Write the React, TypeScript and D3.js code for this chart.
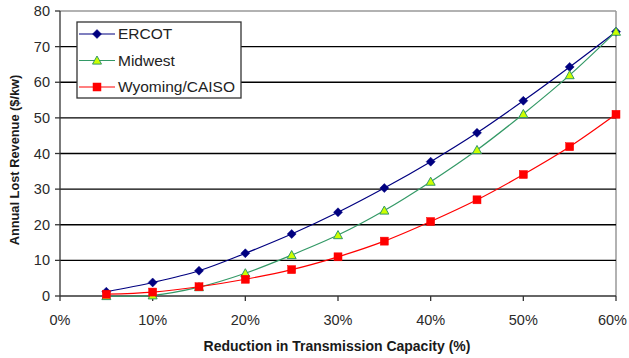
import React from "react";
import * as d3 from "d3";

const capacityCuts = [5, 10, 15, 20, 25, 30, 35, 40, 45, 50, 55, 60];
const ercot = [1.2, 3.8, 7.1, 12.0, 17.4, 23.5, 30.3, 37.7, 45.8, 54.8, 64.3, 74.2];
const midwest = [0.0, 0.2, 2.5, 6.4, 11.5, 17.1, 24.0, 32.1, 41.0, 51.1, 62.0, 74.2];
const wyomingCaiso = [0.5, 1.1, 2.6, 4.7, 7.4, 11.0, 15.4, 20.9, 27.0, 34.1, 41.9, 51.0];
const xTicks = [0, 10, 20, 30, 40, 50, 60];
const yTicks = [0, 10, 20, 30, 40, 50, 60, 70, 80];

const W = 629;
const H = 358;
const left = 60;
const right = 616;
const top = 11;
const bottom = 296;

const x = d3.scaleLinear().domain([0, 60]).range([left, right]);
const y = d3.scaleLinear().domain([0, 80]).range([bottom, top]);

const series = [
  { name: "ERCOT", values: ercot, line: "#000080", marker: "diamond", fill: "#000080", stroke: "#000080" },
  { name: "Midwest", values: midwest, line: "#339966", marker: "triangle", fill: "#ccff00", stroke: "#339966" },
  { name: "Wyoming/CAISO", values: wyomingCaiso, line: "#ff0000", marker: "square", fill: "#ff0000", stroke: "#ff0000" },
];

const font = "'Liberation Sans', Arial, sans-serif";

function Marker({ kind, cx, cy, fill, stroke }: any) {
  if (kind === "diamond") {
    const r = 4.5;
    return <path d={`M${cx},${cy - r}L${cx + r},${cy}L${cx},${cy + r}L${cx - r},${cy}Z`} fill={fill} stroke={stroke} strokeWidth={0.5} />;
  }
  if (kind === "triangle") {
    const r = 4.5;
    return <path d={`M${cx},${cy - r}L${cx + r},${cy + r * 0.8}L${cx - r},${cy + r * 0.8}Z`} fill={fill} stroke={stroke} strokeWidth={1} />;
  }
  const s = 4;
  return <rect x={cx - s} y={cy - s} width={s * 2} height={s * 2} fill={fill} stroke={stroke} strokeWidth={0.5} />;
}

export default function App() {
  const line = d3
    .line<number>()
    .x((_, i) => x(capacityCuts[i]))
    .y((v) => y(v))
    .curve(d3.curveCatmullRom.alpha(0.5));

  return (
    <svg width={W} height={H} style={{ position: "absolute", left: 0, top: 0 }} fontFamily={font}>
      <rect width={W} height={H} fill="#ffffff" />
      {/* plot frame */}
      <line x1={left} x2={right} y1={top} y2={top} stroke="#999999" strokeWidth={1.5} />
      <line x1={right} x2={right} y1={top} y2={bottom} stroke="#999999" strokeWidth={1.5} />
      {yTicks.filter((t) => t > 0 && t < 80).map((t) => (
        <line key={t} x1={left} x2={right} y1={y(t)} y2={y(t)} stroke="#000000" strokeWidth={1.3} />
      ))}
      {/* axes */}
      <line x1={left} x2={left} y1={top} y2={bottom} stroke="#333333" strokeWidth={1.3} />
      <line x1={left} x2={right} y1={bottom} y2={bottom} stroke="#333333" strokeWidth={1.3} />
      {yTicks.map((t) => (
        <g key={t}>
          <line x1={left - 5} x2={left} y1={y(t)} y2={y(t)} stroke="#333333" strokeWidth={1.3} />
          <text x={50} y={y(t)} dy="0.35em" textAnchor="end" fontSize={14.5} fill="#2a2a2a">{t}</text>
        </g>
      ))}
      {xTicks.map((t, i) => {
        const last = i === xTicks.length - 1;
        return (
          <g key={t}>
            <line x1={x(t)} x2={x(t)} y1={bottom} y2={bottom + 5} stroke="#333333" strokeWidth={1.3} />
            <text x={last ? W - 2 : x(t)} y={320} dy="0.35em" textAnchor={last ? "end" : "middle"} fontSize={14.5} fill="#2a2a2a">{t}%</text>
          </g>
        );
      })}
      <text x={337} y={346} dy="0.35em" textAnchor="middle" fontSize={14} fontWeight="bold" fill="#1a1a1a">
        Reduction in Transmission Capacity (%)
      </text>
      <text transform="translate(15,160) rotate(-90)" dy="0.35em" textAnchor="middle" fontSize={12.8} fontWeight="bold" fill="#1a1a1a">
        Annual Lost Revenue ($/kw)
      </text>
      {/* series */}
      {series.map((s) => (
        <g key={s.name}>
          <path d={line(s.values) || ""} fill="none" stroke={s.line} strokeWidth={1.2} />
          {s.values.map((v, i) => (
            <Marker key={i} kind={s.marker} cx={x(capacityCuts[i])} cy={y(v)} fill={s.fill} stroke={s.stroke} />
          ))}
        </g>
      ))}
      {/* legend */}
      <rect x={77} y={22} width={164} height={76} fill="#ffffff" stroke="#333333" strokeWidth={1.3} />
      {series.map((s, i) => {
        const ly = 34 + i * 26.5;
        return (
          <g key={s.name}>
            <line x1={79} x2={115} y1={ly} y2={ly} stroke={s.line} strokeWidth={1.2} />
            <Marker kind={s.marker} cx={97} cy={ly} fill={s.fill} stroke={s.stroke} />
            <text x={118} y={ly} dy="0.35em" fontSize={15.5} fill="#222222">{s.name}</text>
          </g>
        );
      })}
    </svg>
  );
}
